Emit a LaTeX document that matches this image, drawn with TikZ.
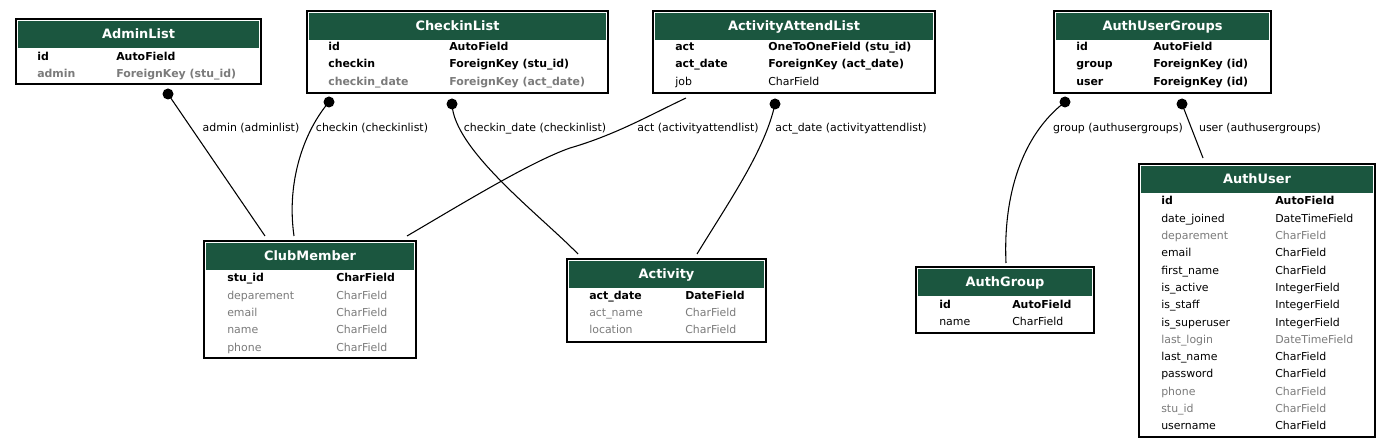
\documentclass[tikz,border=0pt]{standalone}
\usepackage{fontspec}
\setmainfont{DejaVu Sans}
\usetikzlibrary{fit}
\definecolor{hdrgreen}{HTML}{1B563F}
\definecolor{fgray}{HTML}{7B7B7B}
\tikzset{
  tblbox/.style={draw=black, line width=1.1pt, inner sep=0pt, fill=white},
  hdr/.style={fill=hdrgreen},
  ttl/.style={text=white, font=\fontsize{9.7}{11}\selectfont\bfseries, inner sep=0pt, anchor=base},
  fld/.style={anchor=base west, inner sep=0pt, yshift=-3.75pt},
  fb/.style={fld, font=\fontsize{8.2}{10}\selectfont\bfseries, text=black},
  fn/.style={fld, font=\fontsize{8.2}{10}\selectfont, text=black},
  gb/.style={fld, font=\fontsize{8.2}{10}\selectfont\bfseries, text=fgray},
  gn/.style={fld, font=\fontsize{8.2}{10}\selectfont, text=fgray},
  elab/.style={inner sep=0pt, anchor=base, yshift=-3.75pt, font=\fontsize{8.2}{10}\selectfont},
  conn/.style={line width=0.8pt, black},
  fkdot/.style={fill=black}
}
% #1 name, #2 x1, #3 y1, #4 x2, #5 y2, #6 title
\newcommand\tbox[6]{%
  \coordinate (#1-nw) at (#2,#3);
  \coordinate (#1-se) at (#4,#5);
  \node[tblbox, fit=(#1-nw)(#1-se)] (#1) {};
  \fill[hdr] (#2+2,#3+2) rectangle (#4-2,#3+29);
  \node[ttl] (#1-title) at ({(#2+#4)/2},#3+20) {#6};
}
\begin{document}
\begin{tikzpicture}[x=0.75pt,y=-0.75pt]
\useasboundingbox (0,0) rectangle (1391,448);

% AdminList
\tbox{al}{16}{19}{261}{84}{AdminList}
\node[fb] (al-1a) at (37,56) {id};
\node[fb] (al-1b) at (116,56) {AutoField};
\node[gb] (al-2a) at (37,73) {admin};
\node[gb] (al-2b) at (116,73) {ForeignKey (stu\_id)};

% CheckinList
\tbox{cl}{307}{11}{608}{93}{CheckinList}
\node[fb] (cl-1a) at (328,46) {id};
\node[fb] (cl-1b) at (449,46) {AutoField};
\node[fb] (cl-2a) at (328,63) {checkin};
\node[fb] (cl-2b) at (449,63) {ForeignKey (stu\_id)};
\node[gb] (cl-3a) at (328,80.5) {checkin\_date};
\node[gb] (cl-3b) at (449,80.5) {ForeignKey (act\_date)};

% ActivityAttendList
\tbox{aa}{653}{11}{935}{93}{ActivityAttendList}
\node[fb] (aa-1a) at (675,46) {act};
\node[fb] (aa-1b) at (768,46) {OneToOneField (stu\_id)};
\node[fb] (aa-2a) at (675,63) {act\_date};
\node[fb] (aa-2b) at (768,63) {ForeignKey (act\_date)};
\node[fn] (aa-3a) at (675,81) {job};
\node[fn] (aa-3b) at (768,81) {CharField};

% AuthUserGroups
\tbox{ug}{1054}{11}{1271}{93}{AuthUserGroups}
\node[fb] (ug-1a) at (1076,46) {id};
\node[fb] (ug-1b) at (1153,46) {AutoField};
\node[fb] (ug-2a) at (1076,63) {group};
\node[fb] (ug-2b) at (1153,63) {ForeignKey (id)};
\node[fb] (ug-3a) at (1076,81) {user};
\node[fb] (ug-3b) at (1153,81) {ForeignKey (id)};

% ClubMember
\tbox{cm}{204}{241}{416}{358}{ClubMember}
\node[fb] (cm-1a) at (227,277) {stu\_id};
\node[fb] (cm-1b) at (336,277) {CharField};
\node[gn] (cm-2a) at (227,294.5) {deparement};
\node[gn] (cm-2b) at (336,294.5) {CharField};
\node[gn] (cm-3a) at (227,312) {email};
\node[gn] (cm-3b) at (336,312) {CharField};
\node[gn] (cm-4a) at (227,329) {name};
\node[gn] (cm-4b) at (336,329) {CharField};
\node[gn] (cm-5a) at (227,347) {phone};
\node[gn] (cm-5b) at (336,347) {CharField};

% Activity
\tbox{ac}{567}{259}{766}{342}{Activity}
\node[fb] (ac-1a) at (589,295) {act\_date};
\node[fb] (ac-1b) at (685,295) {DateField};
\node[gn] (ac-2a) at (589,312) {act\_name};
\node[gn] (ac-2b) at (685,312) {CharField};
\node[gn] (ac-3a) at (589,329) {location};
\node[gn] (ac-3b) at (685,329) {CharField};

% AuthGroup
\tbox{ag}{916}{267}{1094}{333}{AuthGroup}
\node[fb] (ag-1a) at (939,304) {id};
\node[fb] (ag-1b) at (1012,304) {AutoField};
\node[fn] (ag-2a) at (939,321) {name};
\node[fn] (ag-2b) at (1012,321) {CharField};

% AuthUser
\tbox{au}{1139}{164}{1375}{437}{AuthUser}
\node[fb] (au-1a) at (1161,200) {id};
\node[fb] (au-1b) at (1275,200) {AutoField};
\node[fn] (au-2a) at (1161,217.3) {date\_joined};
\node[fn] (au-2b) at (1275,217.3) {DateTimeField};
\node[gn] (au-3a) at (1161,234.6) {deparement};
\node[gn] (au-3b) at (1275,234.6) {CharField};
\node[fn] (au-4a) at (1161,251.9) {email};
\node[fn] (au-4b) at (1275,251.9) {CharField};
\node[fn] (au-5a) at (1161,269.2) {first\_name};
\node[fn] (au-5b) at (1275,269.2) {CharField};
\node[fn] (au-6a) at (1161,286.5) {is\_active};
\node[fn] (au-6b) at (1275,286.5) {IntegerField};
\node[fn] (au-7a) at (1161,303.8) {is\_staff};
\node[fn] (au-7b) at (1275,303.8) {IntegerField};
\node[fn] (au-8a) at (1161,321.1) {is\_superuser};
\node[fn] (au-8b) at (1275,321.1) {IntegerField};
\node[gn] (au-9a) at (1161,338.4) {last\_login};
\node[gn] (au-9b) at (1275,338.4) {DateTimeField};
\node[fn] (au-10a) at (1161,355.7) {last\_name};
\node[fn] (au-10b) at (1275,355.7) {CharField};
\node[fn] (au-11a) at (1161,373) {password};
\node[fn] (au-11b) at (1275,373) {CharField};
\node[gn] (au-12a) at (1161,390.3) {phone};
\node[gn] (au-12b) at (1275,390.3) {CharField};
\node[gn] (au-13a) at (1161,407.6) {stu\_id};
\node[gn] (au-13b) at (1275,407.6) {CharField};
\node[fn] (au-14a) at (1161,424.9) {username};
\node[fn] (au-14b) at (1275,424.9) {CharField};

% connector end points
\coordinate (e1s) at (168,94);   \coordinate (e1t) at (265,236);
\coordinate (e2s) at (329,102);  \coordinate (e2t) at (294,236);
\coordinate (e3s) at (452,104);  \coordinate (e3t) at (578,254);
\coordinate (e4s) at (686,98);   \coordinate (e4m) at (570,148); \coordinate (e4t) at (407,236);
\coordinate (e5s) at (775,104);  \coordinate (e5t) at (697,254);
\coordinate (e6s) at (1065,102); \coordinate (e6t) at (1006,263);
\coordinate (e7s) at (1182,104); \coordinate (e7t) at (1203,158);

\draw[conn] (e1s) -- (e1t);
\draw[conn] (e2s) .. controls (305,130) and (286,180) .. (e2t);
\draw[conn] (e3s) .. controls (454,150) and (540,215) .. (e3t);
\draw[conn] (e4s) .. controls (650,115) and (615,135) .. (e4m) .. controls (530,162) and (460,205) .. (e4t);
\draw[conn] (e5s) .. controls (765,150) and (730,200) .. (e5t);
\draw[conn] (e6s) .. controls (1022,135) and (1003,195) .. (e6t);
\draw[conn] (e7s) -- (e7t);

\fill[fkdot] (e1s) circle[radius=5.5];
\fill[fkdot] (e2s) circle[radius=5.5];
\fill[fkdot] (e3s) circle[radius=5.5];
\fill[fkdot] (e5s) circle[radius=5.5];
\fill[fkdot] (e6s) circle[radius=5.5];
\fill[fkdot] (e7s) circle[radius=5.5];

\node[elab] (l1) at (251,127) {admin (adminlist)};
\node[elab] (l2) at (372,127) {checkin (checkinlist)};
\node[elab] (l3) at (535,127) {checkin\_date (checkinlist)};
\node[elab] (l4) at (698,127) {act (activityattendlist)};
\node[elab] (l5) at (851,127) {act\_date (activityattendlist)};
\node[elab] (l6) at (1118,127) {group (authusergroups)};
\node[elab] (l7) at (1260,127) {user (authusergroups)};
\end{tikzpicture}
\end{document}
